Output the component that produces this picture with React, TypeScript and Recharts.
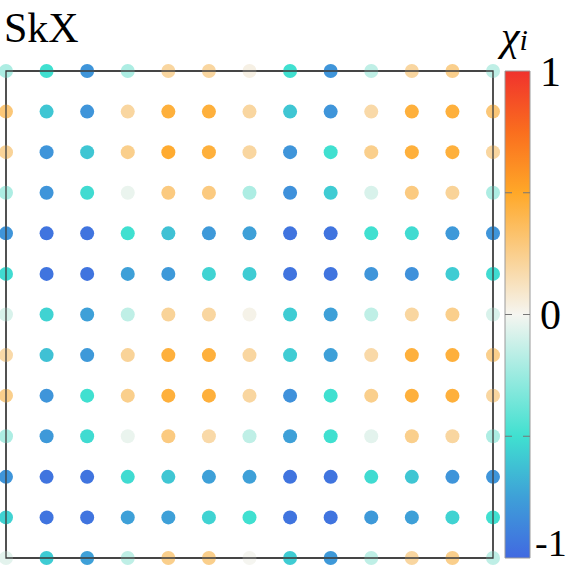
import { ScatterChart, Scatter, XAxis, YAxis, Cell, BarChart, Bar, ReferenceLine, ReferenceArea } from 'recharts';

// grid positions of the lattice sites
const COLS = [0, 1, 2, 3, 4, 5, 6, 7, 8, 9, 10, 11, 12];
const ROWS = [0, 1, 2, 3, 4, 5, 6, 7, 8, 9, 10, 11, 12];

// chi_i per site, row by row from the top
const CHI = [
    [-0.2, -0.5, -0.8, -0.2, 0.2, 0.2, 0.03, -0.5, -0.8, -0.15, 0.2, 0.25, -0.15],
    [0.3, -0.6, -0.8, 0.2, 0.45, 0.45, 0.2, -0.6, -0.8, 0.18, 0.45, 0.45, 0.3],
    [0.22, -0.8, -0.6, 0.25, 0.48, 0.45, 0.2, -0.8, -0.5, 0.25, 0.45, 0.45, 0.2],
    [-0.2, -0.8, -0.52, -0.03, 0.28, 0.28, -0.2, -0.82, -0.58, -0.08, 0.28, 0.22, -0.2],
    [-0.8, -0.95, -0.95, -0.5, -0.62, -0.78, -0.75, -0.95, -0.95, -0.5, -0.52, -0.78, -0.8],
    [-0.52, -0.95, -0.95, -0.75, -0.78, -0.55, -0.58, -0.95, -0.95, -0.8, -0.82, -0.58, -0.52],
    [-0.08, -0.55, -0.75, -0.15, 0.22, 0.2, 0.02, -0.58, -0.75, -0.15, 0.2, 0.25, -0.08],
    [0.18, -0.62, -0.78, 0.22, 0.45, 0.45, 0.2, -0.58, -0.75, 0.18, 0.45, 0.45, 0.25],
    [0.25, -0.8, -0.5, 0.25, 0.45, 0.45, 0.2, -0.82, -0.5, 0.25, 0.45, 0.45, 0.2],
    [-0.2, -0.78, -0.52, -0.03, 0.28, 0.18, -0.15, -0.75, -0.5, -0.05, 0.25, 0.2, -0.2],
    [-0.8, -0.95, -0.95, -0.52, -0.6, -0.75, -0.75, -0.95, -0.95, -0.52, -0.6, -0.8, -0.8],
    [-0.55, -0.95, -0.95, -0.75, -0.75, -0.55, -0.5, -0.95, -0.95, -0.78, -0.75, -0.55, -0.5],
    [-0.05, -0.58, -0.75, -0.15, 0.25, 0.25, 0, -0.58, -0.78, -0.15, 0.2, 0.25, -0.15],
];

const BAR_TICKS = [-1, 0, 1];
const BAR_DASHES = [-0.5, 0, 0.5];

// colour map stops (value, rgb)
const STOPS: [number, number[]][] = [
    [-1, [65, 105, 225]],
    [-0.75, [62, 160, 216]],
    [-0.5, [64, 224, 208]],
    [0, [245, 245, 240]],
    [0.5, [255, 168, 40]],
    [0.75, [250, 110, 30]],
    [1, [240, 50, 45]],
];

function chiColor(v: number) {
    for (let i = 0; i < STOPS.length - 1; i++) {
        const [a, ca] = STOPS[i];
        const [b, cb] = STOPS[i + 1];
        if (v <= b) {
            const t = Math.max(0, (v - a) / (b - a));
            const c = ca.map((x, k) => Math.round(x + (cb[k] - x) * t));
            return `rgb(${c[0]},${c[1]},${c[2]})`;
        }
    }
    const c = STOPS[STOPS.length - 1][1];
    return `rgb(${c[0]},${c[1]},${c[2]})`;
}

const sites = ROWS.flatMap((r) => COLS.map((c) => ({ x: c, y: r, chi: CHI[r][c] })));
const barData = [{ name: 'chi', range: [-1, 1] }];

const W = 576;
const H = 567;
const frame = '#3a3a3a';
const SERIF = '"Liberation Serif", "Times New Roman", Times, "DejaVu Serif", serif';
const plotMargin = { top: 71, right: 83, bottom: 9, left: 6 };

// colour bar tick, the bottom label nudged so it stays inside the page
function BarTick(props: any) {
    const { x, y, payload } = props;
    const low = payload.value === -1;
    return (
        <text x={x + (low ? -3 : 2)} y={y + (low ? -15 : 0)} dy="0.355em" fontSize={low ? 38 : 42} fill="#000" style={{ fontFamily: SERIF }}>
            {payload.value}
        </text>
    );
}

export default function App() {
    return (
        <div style={{ position: 'absolute', left: 0, top: 0, width: W, height: H, background: '#fff', fontFamily: SERIF }}>
            <div style={{ position: 'absolute', left: 4, top: 4, fontSize: 42, lineHeight: '48px' }}>SkX</div>
            <div style={{ position: 'absolute', left: 501, top: 12, fontSize: 42, lineHeight: '48px', fontStyle: 'italic' }}>
                χ<span style={{ fontSize: 30 }}>i</span>
            </div>

            {/* lattice */}
            <div style={{ position: 'absolute', left: 0, top: 0 }}>
                <ScatterChart width={W} height={H} margin={plotMargin}>
                    <XAxis type="number" dataKey="x" domain={[0, 12]} hide />
                    <YAxis type="number" dataKey="y" domain={[0, 12]} reversed hide />
                    <ReferenceArea x1={0} x2={12} y1={0} y2={12} fill="none" fillOpacity={0} stroke={frame} strokeWidth={1.3} ifOverflow="visible" />
                    <Scatter
                        data={sites}
                        isAnimationActive={false}
                        shape={(p: any) => <circle cx={p.cx} cy={p.cy} r={7} fill={p.fill} />}
                    >
                        {sites.map((s, i) => (
                            <Cell key={`site-${i}`} fill={chiColor(s.chi)} />
                        ))}
                    </Scatter>
                </ScatterChart>
            </div>

            {/* frame again, on top of the dots */}
            <div style={{ position: 'absolute', left: 0, top: 0 }}>
                <ScatterChart width={W} height={H} margin={plotMargin}>
                    <XAxis type="number" dataKey="x" domain={[0, 12]} hide />
                    <YAxis type="number" dataKey="y" domain={[0, 12]} reversed hide />
                    <Scatter data={[{ x: 0, y: 0 }]} fill="none" isAnimationActive={false} shape={() => <g />} />
                    <ReferenceArea x1={0} x2={12} y1={0} y2={12} fill="none" fillOpacity={0} stroke={frame} strokeWidth={1.3} ifOverflow="visible" />
                </ScatterChart>
            </div>

            {/* colour bar */}
            <div style={{ position: 'absolute', left: 0, top: 0 }}>
                <BarChart width={W} height={H} data={barData} margin={{ top: 71, right: 0, bottom: 9, left: 505 }} barCategoryGap={0}>
                    <defs>
                        <linearGradient id="chiGrad" x1="0" y1="1" x2="0" y2="0">
                            {STOPS.map(([v, c]) => (
                                <stop key={v} offset={`${((v + 1) / 2) * 100}%`} stopColor={`rgb(${c[0]},${c[1]},${c[2]})`} />
                            ))}
                        </linearGradient>
                    </defs>
                    <XAxis dataKey="name" hide />
                    <YAxis
                        orientation="right"
                        type="number"
                        domain={[-1, 1]}
                        ticks={BAR_TICKS}
                        interval={0}
                        width={46}
                        axisLine={false}
                        tickLine={false}
                        tick={<BarTick />}
                    />
                    <Bar dataKey="range" fill="url(#chiGrad)" stroke="#9a9a9a" strokeWidth={1} isAnimationActive={false} />
                    {BAR_DASHES.map((d) => (
                        <ReferenceLine key={d} y={d} stroke="#777" strokeWidth={1} strokeDasharray="7 11 7" />
                    ))}
                </BarChart>
            </div>
        </div>
    );
}
